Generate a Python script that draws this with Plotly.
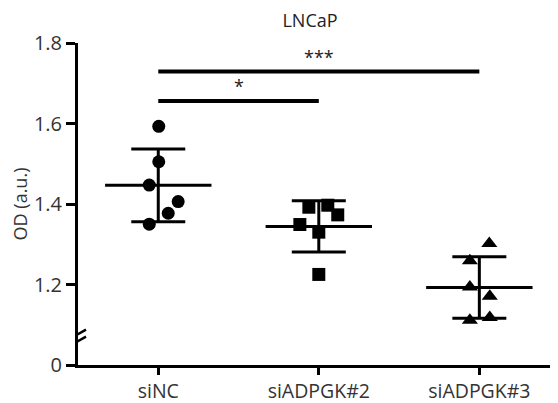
import numpy as np
import plotly.graph_objects as go

# ---- data ----
categories = ["siNC", "siADPGK#2", "siADPGK#3"]
od_siNC = [1.593, 1.505, 1.447, 1.406, 1.377, 1.350]
od_siADPGK2 = [1.392, 1.397, 1.373, 1.349, 1.330, 1.225]
od_siADPGK3 = [1.302, 1.259, 1.194, 1.171, 1.111, 1.118]
jitter_siNC = [0.003, 0.003, -0.056, 0.124, 0.062, -0.056]
jitter_siADPGK2 = [-0.062, 0.056, 0.118, -0.118, 0.0, 0.0]
jitter_siADPGK3 = [0.062, -0.059, -0.059, 0.065, -0.059, 0.065]
symbols = ["circle", "square", "triangle-up"]
y_tick_vals = [1.0, 1.2, 1.4, 1.6, 1.8]
y_tick_text = ["0", "1.2", "1.4", "1.6", "1.8"]
comparisons = [(0, 1, "*"), (0, 2, "***")]
comparison_heights = [1.656, 1.729]

groups = [od_siNC, od_siADPGK2, od_siADPGK3]
jitters = [jitter_siNC, jitter_siADPGK2, jitter_siADPGK3]

FONT = "Open Sans"
W, H = 550, 395  # page body has an 8px margin inside the 558x403 window

fig = go.Figure()

for i, (vals, jit, sym) in enumerate(zip(groups, jitters, symbols)):
    xs = [i + j for j in jit]
    fig.add_trace(go.Scatter(
        x=xs, y=vals, mode="markers",
        marker=dict(symbol=sym, size=13 if sym != "triangle-up" else 14, color="black",
                    line=dict(width=0)),
        showlegend=False, hoverinfo="y"))

means = [float(np.mean(v)) for v in groups]
sds = [float(np.std(v, ddof=1)) for v in groups]

# mean lines with SD error bars (line-ew symbol length = 1.4 * size)
fig.add_trace(go.Scatter(
    x=list(range(len(categories))), y=means, mode="markers",
    marker=dict(symbol="line-ew-open", size=76, color="black",
                line=dict(width=3, color="black")),
    error_y=dict(type="data", array=sds, visible=True, thickness=3,
                 width=27, color="black"),
    showlegend=False, hoverinfo="y"))

shapes = []
annotations = []
for (a, b, label), h in zip(comparisons, comparison_heights):
    shapes.append(dict(type="line", xref="x", yref="y", x0=a, x1=b, y0=h, y1=h,
                       line=dict(color="black", width=4)))
    annotations.append(dict(x=(a + b) / 2, y=h, xref="x", yref="y", text=label,
                            showarrow=False, yanchor="bottom", yshift=1,
                            font=dict(family=FONT, size=18, color="#222")))

# axis break marks
break_y = 1.068
for dy in (3.5, -3.5):
    shapes.append(dict(type="line", xref="x", yref="y",
                       xsizemode="pixel", ysizemode="pixel",
                       xanchor=-0.5, yanchor=break_y,
                       x0=-8, x1=8, y0=dy - 4.5, y1=dy + 4.5,
                       line=dict(color="black", width=2.5)))

fig.update_layout(
    width=W, height=H,
    margin=dict(l=70, r=0, t=35, b=38, autoexpand=False),
    paper_bgcolor="white", plot_bgcolor="white",
    title=dict(text="LNCaP", x=302 / W, xanchor="center",
               y=1 - 13 / H, yanchor="middle",
               font=dict(family=FONT, size=18, color="#222")),
    shapes=shapes, annotations=annotations,
    font=dict(family=FONT),
)
fig.update_xaxes(
    range=[-0.5, 2.49], tickvals=list(range(len(categories))), ticktext=categories,
    showline=True, linewidth=3, linecolor="black", ticks="outside",
    ticklen=7, tickwidth=3, tickcolor="black", showgrid=False, zeroline=False,
    tickfont=dict(family=FONT, size=19.5, color="#333"), fixedrange=True,
    automargin=False)
fig.update_yaxes(
    range=[1.0, 1.8], tickvals=y_tick_vals, ticktext=y_tick_text,
    showline=True, linewidth=3, linecolor="black", ticks="outside",
    ticklen=9, tickwidth=3, tickcolor="black", showgrid=False, zeroline=False,
    tickfont=dict(family=FONT, size=20, color="#333"),
    title=dict(text="OD (a.u.)", font=dict(family=FONT, size=18, color="#333"),
               standoff=8),
    fixedrange=True, automargin=False)

fig.write_html("out.html")
